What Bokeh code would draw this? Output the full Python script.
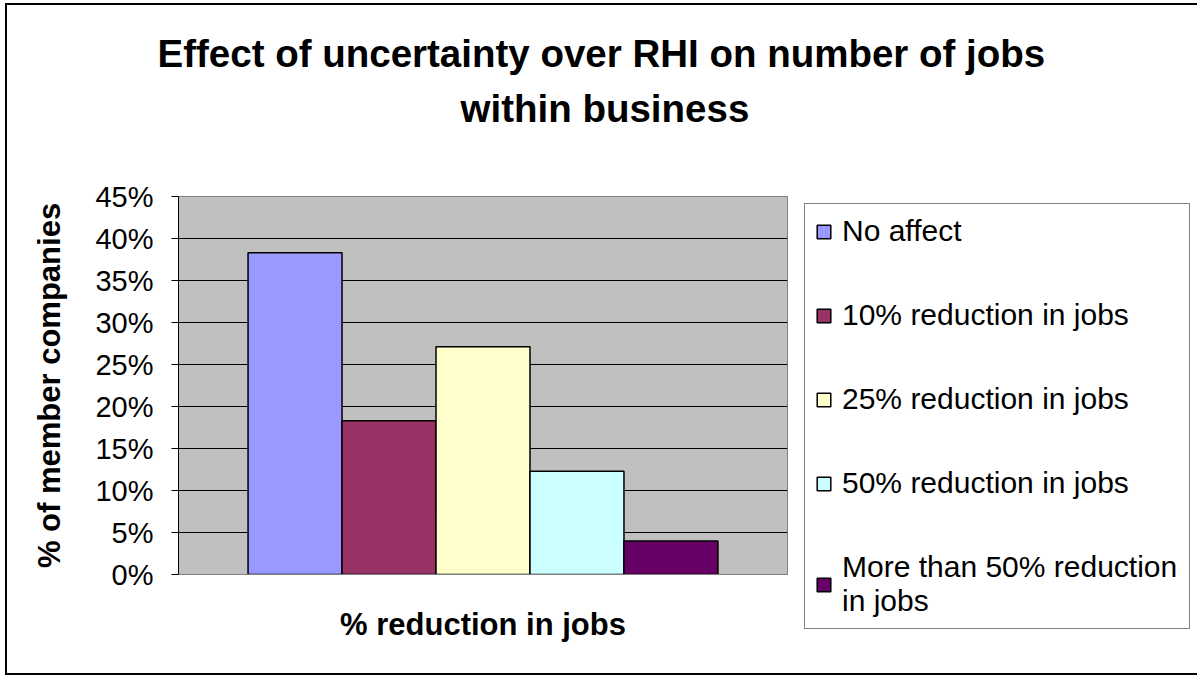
from bokeh.plotting import figure
from bokeh.models import (FactorRange, Range1d, NumeralTickFormatter, Legend,
                          LegendItem, Title, ColumnDataSource)
from bokeh.embed import file_html
from bokeh.resources import INLINE

# ---- data ----
categories = ["No affect", "10% reduction in jobs", "25% reduction in jobs",
              "50% reduction in jobs", "More than 50% reduction in jobs"]
legend_labels = ["No affect", "10% reduction in jobs", "25% reduction in jobs",
                 "50% reduction in jobs", "More than 50% reduction\nin jobs"]
shares = [0.383, 0.183, 0.271, 0.123, 0.040]
colors = ["#9999FF", "#993366", "#FFFFCC", "#CCFFFF", "#660066"]
y_ticks = [0.0, 0.05, 0.10, 0.15, 0.20, 0.25, 0.30, 0.35, 0.40, 0.45]
title_lines = ["Effect of uncertainty over RHI on number of jobs",
               "within business"]
x_title = "% reduction in jobs"
y_title = "% of member companies"

FONT = "Liberation Sans"

src = ColumnDataSource(dict(cat=categories, share=shares, color=colors))

p = figure(x_range=FactorRange(factors=categories, range_padding=0.296),
           y_range=Range1d(0, 0.45),
           frame_width=609, frame_height=378,
           min_border_left=171, min_border_right=406,
           min_border_top=191, min_border_bottom=99,
           output_backend="svg", toolbar_location=None)
p.styles = {"border": "2px solid black", "margin-left": "5px", "margin-top": "3px"}

p.background_fill_color = "#C0C0C0"
p.border_fill_color = "white"
p.outline_line_color = "#808080"
p.outline_line_width = 1

r = p.vbar(x="cat", top="share", width=1.0, source=src, fill_color="color",
           line_color="black", line_width=1.5)

# titles (spacer nearest the frame, then line 2, then line 1 on top)
p.add_layout(Title(text=" ", text_font_size="1px", standoff=59), "above")
p.add_layout(Title(text=title_lines[1], align="left", offset=282,
                   text_font=FONT, text_font_size="38.5px", text_font_style="bold",
                   text_color="black", standoff=10), "above")
p.title.text = title_lines[0]
p.title.align = "left"
p.title.offset = -21
p.title.standoff = 10
p.title.text_font = FONT
p.title.text_font_size = "38.5px"
p.title.text_font_style = "bold"
p.title.text_color = "black"

# grid
p.xgrid.visible = False
p.ygrid.grid_line_color = "black"
p.ygrid.grid_line_width = 1

# y axis
p.yaxis.ticker = y_ticks
p.yaxis.formatter = NumeralTickFormatter(format="0%")
p.yaxis.axis_line_color = "black"
p.yaxis.major_tick_line_color = "black"
p.yaxis.major_tick_in = 0
p.yaxis.major_tick_out = 7
p.yaxis.minor_tick_line_color = None
p.yaxis.major_label_text_font = FONT
p.yaxis.major_label_text_font_size = "29px"
p.yaxis.major_label_text_color = "black"
p.yaxis.major_label_standoff = 18
p.yaxis.axis_label = y_title
p.yaxis.axis_label_text_font = FONT
p.yaxis.axis_label_text_font_size = "31px"
p.yaxis.axis_label_text_font_style = "bold"
p.yaxis.axis_label_text_color = "black"
p.yaxis.axis_label_standoff = 25

# x axis
p.xaxis.axis_line_color = "#808080"
p.xaxis.major_tick_line_color = None
p.xaxis.minor_tick_line_color = None
p.xaxis.major_label_text_font_size = "1px"
p.xaxis.major_label_text_color = None
p.xaxis.major_label_standoff = 0
p.xaxis.axis_label = x_title
p.xaxis.axis_label_text_font = FONT
p.xaxis.axis_label_text_font_size = "31px"
p.xaxis.axis_label_text_font_style = "bold"
p.xaxis.axis_label_text_color = "black"
p.xaxis.axis_label_standoff = 26

# legend
items = [LegendItem(label=legend_labels[i], renderers=[r], index=i)
         for i in range(len(categories))]
legend = Legend(items=items, location=(17, -55), margin=0)
legend.label_text_font = FONT
legend.label_text_font_size = "30px"
legend.label_text_color = "black"
legend.glyph_width = 17
legend.glyph_height = 17
legend.label_standoff = 10
legend.label_width = 337
legend.padding = 10
legend.spacing = 50
legend.border_line_color = "black"
legend.border_line_width = 1
legend.background_fill_color = "white"
legend.background_fill_alpha = 1
p.add_layout(legend, "right")

open("out.html", "w").write(file_html(p, INLINE))
